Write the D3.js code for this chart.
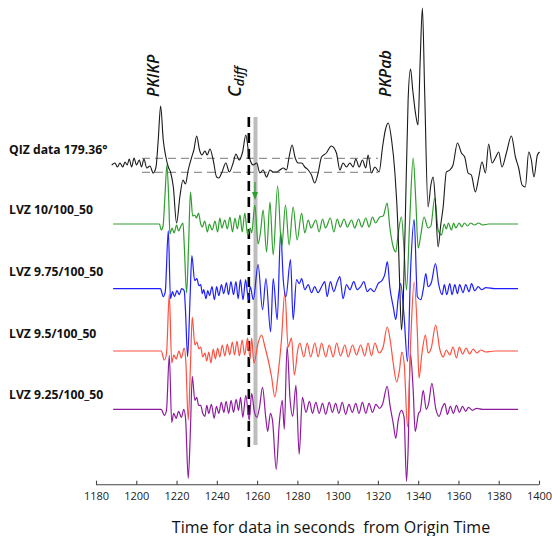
<!DOCTYPE html>
<html>
<head>
<meta charset="utf-8">
<script src="https://cdn.jsdelivr.net/npm/d3@7"></script>
<style>
html,body{margin:0;padding:0;background:#fff;}
svg{display:block;}
</style>
</head>
<body>
<svg id="chart" width="552" height="536"></svg>
<script>
// ---------- DATA (time in s from origin, relative amplitude) ----------
const traceNames = ["QIZ data 179.36°", "LVZ 10/100_50", "LVZ 9.75/100_50", "LVZ 9.5/100_50", "LVZ 9.25/100_50"];
const xTicks = [1180,1200,1220,1240,1260,1280,1300,1320,1340,1360,1380,1400];
const phaseNames = ["PKIKP", "C", "PKPab"];
const phaseTimes = [1210.6, 1251.6, 1326.0];
const cdiffPredicted = 1255.9;
const cdiffObserved = 1259.2;
const noiseLevels = [6.7, -7.3];

const qiz = [[1187.8,0],[1189.4,2],[1190.6,-2],[1191.9,2],[1193.3,-2],[1194.4,3],[1195.5,0],[1196.5,6],[1197.7,-2],[1198.9,7],[1200.1,0],[1201.5,5],[1202.6,-2],[1203.8,6],[1205.2,-3],[1206.8,-1],[1208.4,-8],[1209.8,-2],[1210.9,25],[1212.1,59],[1213.4,25],[1214.7,8],[1215.9,-2],[1217.0,-7],[1218.4,-22],[1220.0,-58],[1221.7,-31],[1223.2,-15],[1224.4,-19],[1225.8,-5],[1227.4,7],[1228.6,15],[1230.0,29],[1231.4,15],[1232.6,10],[1234.1,14],[1235.2,10],[1236.6,16],[1238.2,5],[1239.9,-12],[1241.0,-13],[1242.4,-8],[1244.5,2],[1246.2,-7],[1248.1,2],[1249.5,11],[1251.1,5],[1252.8,13],[1254.4,30],[1256.1,8],[1258.1,0],[1259.8,2],[1261.4,-8],[1263.0,-5],[1264.7,-12],[1266.4,-5],[1268.0,-7],[1269.7,-7],[1271.3,-5],[1273.0,-3],[1274.6,-5],[1275.9,8],[1277.4,20],[1278.8,8],[1280.4,2],[1282.1,2],[1283.7,-2],[1285.4,-5],[1287.0,-10],[1288.6,-18],[1290.3,-8],[1292.0,8],[1294.4,12],[1296.9,19],[1299.4,12],[1301.1,-5],[1302.7,2],[1304.4,-2],[1306.1,2],[1307.7,-2],[1309.0,6],[1310.7,-2],[1312.3,5],[1314.0,-3],[1315.1,10],[1316.8,-8],[1318.5,-2],[1320.6,-7],[1322.3,18],[1323.7,35],[1325.1,42],[1326.8,25],[1328.4,-7],[1330.0,-65],[1330.9,-125],[1331.7,-165],[1332.6,-135],[1333.6,-55],[1335.0,65],[1336.2,96],[1337.3,75],[1338.8,50],[1339.9,40],[1341.0,105],[1342.1,157],[1343.2,75],[1344.9,-42],[1346.3,-20],[1347.4,-12],[1348.5,-35],[1349.9,-82],[1351.2,-60],[1352.4,-42],[1354.0,-7],[1355.7,-5],[1357.3,0],[1359.5,22],[1361.5,12],[1363.1,8],[1364.8,-8],[1366.4,-10],[1368.4,-27],[1370.1,-12],[1371.7,3],[1373.4,-8],[1375.0,21],[1376.7,2],[1378.3,7],[1380.0,13],[1381.6,-2],[1383.8,12],[1386.3,29],[1388.3,8],[1389.9,-3],[1391.6,-20],[1393.2,-22],[1394.9,13],[1396.2,5],[1397.5,-12],[1399.2,10],[1400.3,13]];

const lvz10 = [[1188.5,0],[1211.5,0],[1212.4,-6],[1213.3,-2],[1214.3,30],[1215.2,59],[1216.2,20],[1216.7,-10],[1217.8,-4],[1218.8,-9],[1220.0,-1],[1221.0,-7],[1222.2,-2],[1223.2,1],[1223.8,-20],[1225.0,-69],[1226.0,-20],[1226.9,32],[1228.0,8],[1229.0,9],[1229.9,6],[1230.9,11],[1232.0,0],[1232.8,-3],[1234.0,3],[1235.3,-8],[1236.3,0],[1237.7,-6],[1239.1,3],[1240.4,-8],[1241.5,6],[1242.5,-4],[1244.0,4],[1245.2,-5],[1246.5,7],[1247.8,-8],[1249.0,6],[1250.2,-5],[1251.5,9],[1252.6,-8],[1253.9,11],[1255.3,-11],[1256.6,-4],[1257.3,-9],[1258.9,19],[1260.5,-20],[1261.7,-8],[1263.0,14],[1264.7,-28],[1266.4,22],[1268.0,-31],[1270.2,38],[1272.2,-24],[1274.1,19],[1275.9,-21],[1277.9,17],[1279.9,-16],[1282.1,11],[1283.7,-9],[1285.4,4],[1286.8,-4],[1289.2,4],[1290.8,-8],[1292.5,5],[1294.0,-4],[1296.4,6],[1298.1,-8],[1299.8,5],[1301.3,-3],[1303.2,5],[1304.8,-3],[1306.9,4],[1308.5,-4],[1310.4,5],[1312.0,-3],[1314.0,6],[1315.6,-3],[1317.3,7],[1318.8,1],[1320.9,7],[1322.6,8],[1324.6,21],[1325.9,-3],[1327.6,-23],[1328.9,-28],[1329.8,-14],[1331.7,7],[1332.9,-23],[1334.2,-66],[1335.8,4],[1337.5,66],[1338.8,24],[1340.0,-24],[1341.3,-11],[1342.9,7],[1344.9,-4],[1346.3,-2],[1348.2,26],[1349.9,-6],[1351.6,-11],[1352.9,0],[1354.0,-5],[1355.0,1],[1356.5,-6],[1357.6,1],[1358.7,-4],[1360.4,1],[1361.6,-3],[1363.0,1],[1364.5,-2],[1366.0,1],[1368.0,-1],[1370.0,1],[1372.0,-1],[1375.0,0],[1389.6,0]];

const lvz975 = [[1188.5,0],[1212.0,0],[1213.4,-8],[1214.4,-3],[1215.9,58],[1217.0,-10],[1218.0,-3],[1219.0,-8],[1220.2,-2],[1221.4,-6],[1222.5,0],[1223.8,-2],[1224.4,-20],[1225.5,-68],[1226.7,-10],[1227.6,33],[1229.0,8],[1230.1,10],[1231.1,3],[1232.0,4],[1232.8,-5],[1233.5,-1],[1234.6,-10],[1235.5,-2],[1236.4,-7],[1237.6,2],[1238.8,-11],[1239.9,2],[1241.0,-7],[1242.3,4],[1243.4,-5],[1244.8,6],[1245.8,-6],[1247.0,7],[1248.3,-6],[1249.5,7],[1250.6,-10],[1251.7,9],[1253.0,-11],[1254.3,9],[1255.7,-11],[1256.6,2],[1258.1,-11],[1260.5,24],[1262.7,-21],[1264.4,10],[1266.7,-43],[1268.0,10],[1270.0,-31],[1271.7,57],[1273.0,9],[1274.3,-8],[1276.6,29],[1277.9,-31],[1279.6,9],[1281.0,5],[1282.1,10],[1283.7,-1],[1285.4,4],[1287.0,-4],[1288.6,2],[1290.3,-4],[1292.0,2],[1293.6,7],[1294.8,-8],[1296.4,7],[1298.1,-3],[1299.8,7],[1301.1,12],[1302.7,-10],[1304.4,4],[1306.1,-1],[1308.0,7],[1309.7,-1],[1311.4,2],[1313.0,7],[1314.7,-3],[1316.3,0],[1318.0,-3],[1320.1,5],[1322.3,9],[1323.4,14],[1324.7,27],[1325.9,2],[1327.6,-18],[1328.9,-31],[1330.0,-11],[1331.3,5],[1333.0,-28],[1334.7,-73],[1336.3,22],[1338.0,69],[1339.6,-8],[1341.3,-11],[1342.5,-1],[1343.8,15],[1344.9,2],[1346.5,6],[1348.6,25],[1350.2,4],[1351.9,-6],[1353.0,4],[1354.2,-6],[1355.7,5],[1356.8,-6],[1358.2,4],[1359.5,-5],[1360.6,4],[1362.3,-4],[1363.6,4],[1365.3,-3],[1366.5,5],[1368.1,-2],[1369.8,2],[1371.5,-1],[1373.6,1],[1378.0,0],[1389.6,0]];

const lvz95 = [[1188.5,0],[1212.4,0],[1213.9,-9],[1215.0,-3],[1216.4,57],[1217.6,-12],[1218.6,-4],[1219.8,-8],[1221.2,0],[1222.4,-7],[1223.8,3],[1224.6,-10],[1225.8,-69],[1226.9,-15],[1227.8,34],[1229.1,6],[1230.1,9],[1231.1,2],[1232.0,4],[1233.0,-6],[1234.1,-2],[1235.0,-10],[1236.0,-1],[1237.1,-12],[1238.2,2],[1239.3,-8],[1240.4,3],[1241.5,-6],[1242.7,6],[1244.0,-5],[1245.2,7],[1246.4,-4],[1247.7,9],[1248.8,-4],[1250.0,10],[1251.2,-5],[1252.6,11],[1253.8,-4],[1255.3,13],[1256.5,-8],[1257.3,13],[1258.4,-12],[1260.5,8],[1262.2,16],[1263.9,4],[1265.5,-9],[1267.2,-26],[1268.8,-46],[1270.5,-22],[1272.1,11],[1273.8,59],[1275.4,4],[1277.1,13],[1278.5,-24],[1280.2,1],[1281.2,8],[1283.2,-6],[1284.9,8],[1286.6,-6],[1288.7,8],[1290.3,-6],[1292.0,8],[1294.1,-6],[1295.8,6],[1297.8,-6],[1299.5,8],[1301.4,-5],[1303.6,6],[1305.2,-6],[1307.4,6],[1309.4,-4],[1311.4,6],[1313.5,-5],[1315.1,8],[1316.8,-5],[1318.5,8],[1320.6,-2],[1322.6,4],[1324.6,24],[1326.3,8],[1327.6,-12],[1329.3,-31],[1330.7,-19],[1331.9,-1],[1333.1,-14],[1334.7,-76],[1336.3,11],[1338.0,69],[1339.6,18],[1340.4,-27],[1341.9,-2],[1343.6,16],[1344.9,-2],[1346.5,3],[1348.7,26],[1350.7,2],[1352.4,-6],[1354.0,1],[1355.7,-4],[1357.3,4],[1359.0,-7],[1360.4,4],[1362.1,-3],[1363.8,3],[1365.6,-3],[1367.3,2],[1369.1,-2],[1371.1,1],[1373.6,-1],[1378.0,0],[1389.6,0]];

const lvz925 = [[1188.5,0],[1212.4,0],[1213.9,-6],[1215.0,-1],[1216.4,54],[1217.6,-13],[1218.6,-4],[1219.8,-9],[1221.0,-2],[1222.4,-8],[1223.6,0],[1224.5,-10],[1225.8,-69],[1226.9,-20],[1227.8,33],[1229.1,9],[1230.0,12],[1231.0,4],[1232.0,4],[1233.0,-4],[1234.1,-7],[1235.0,4],[1236.0,-4],[1237.3,5],[1238.7,-9],[1239.8,3],[1241.0,-4],[1242.2,7],[1243.5,-3],[1244.6,8],[1245.9,-4],[1247.1,9],[1248.3,-3],[1249.6,10],[1250.8,-1],[1251.8,12],[1252.9,-8],[1254.4,14],[1256.1,-11],[1257.3,16],[1258.6,-2],[1259.9,-8],[1261.2,2],[1262.7,22],[1264.3,-8],[1265.3,-22],[1266.6,-4],[1267.7,-12],[1269.5,-60],[1271.0,-15],[1272.5,9],[1273.5,-20],[1274.9,63],[1276.4,9],[1277.7,-7],[1279.3,24],[1280.9,-45],[1282.5,12],[1284.3,-3],[1286.0,8],[1287.5,-4],[1289.2,7],[1290.8,-4],[1292.5,6],[1294.1,-5],[1295.8,7],[1297.4,-3],[1299.0,6],[1300.6,-4],[1302.3,7],[1304.0,-5],[1305.6,5],[1307.3,-3],[1309.0,6],[1310.6,-4],[1312.3,7],[1314.0,-4],[1315.6,6],[1317.3,-3],[1319.0,5],[1320.8,1],[1322.3,5],[1324.6,23],[1326.0,4],[1327.6,-14],[1328.9,-29],[1330.0,-12],[1331.7,-1],[1333.0,-8],[1334.2,-72],[1335.0,-40],[1336.1,56],[1337.5,20],[1338.5,-22],[1340.2,-4],[1341.0,-2],[1342.5,19],[1344.0,0],[1345.2,6],[1346.8,26],[1348.7,1],[1350.4,-7],[1352.0,2],[1353.2,6],[1354.5,-5],[1356.0,3],[1357.5,-4],[1359.0,4],[1360.5,-3],[1362.0,3],[1363.6,-2],[1365.0,2],[1367.0,-1],[1369.0,1],[1372.0,0],[1389.6,0]];

const seriesList = [qiz, lvz10, lvz975, lvz95, lvz925];
const seriesColors = ["#1a1a1a", "#2e9e2e", "#1f1fff", "#ff4f3f", "#8e1b9e"];

// ---------- LAYOUT ----------
const svg = d3.select("#chart");
const x = d3.scaleLinear().domain([1180, 1400]).range([96, 539]);
const baselines = [165, 224, 288.7, 351, 409.3];
const yFor = i => d3.scaleLinear().domain([-100, 100]).range([baselines[i] + 100, baselines[i] - 100]);

// noise band dashed lines on data trace
const y0 = yFor(0);
svg.selectAll("line.noise").data(noiseLevels).enter().append("line")
  .attr("x1", 142).attr("x2", 378)
  .attr("y1", d => y0(d)).attr("y2", d => y0(d))
  .attr("stroke", "#555").attr("stroke-width", 0.8).attr("stroke-dasharray", "8,5");

// grey band (observed Cdiff)
svg.append("line")
  .attr("x1", x(cdiffObserved)).attr("x2", x(cdiffObserved))
  .attr("y1", 117).attr("y2", 445)
  .attr("stroke", "#bdbdbd").attr("stroke-width", 4);

// dashed black (predicted Cdiff)
svg.append("line")
  .attr("x1", x(cdiffPredicted)).attr("x2", x(cdiffPredicted))
  .attr("y1", 117).attr("y2", 447)
  .attr("stroke", "#000").attr("stroke-width", 2.6).attr("stroke-dasharray", "10,6");

// traces (draw synthetics bottom-up, data on top)
const order = [4, 3, 2, 1, 0];
order.forEach(i => {
  const yy = yFor(i);
  const line = d3.line().x(d => x(d[0])).y(d => yy(d[1])).curve(d3.curveMonotoneX);
  svg.append("path").datum(seriesList[i])
    .attr("d", line).attr("fill", "none")
    .attr("stroke", seriesColors[i]).attr("stroke-width", i === 0 ? 1.1 : 1.2)
    .attr("stroke-linejoin", "round");
});

// green arrow
const ax = x(cdiffObserved) - 0.5;
svg.append("line").attr("x1", ax).attr("x2", ax).attr("y1", 182).attr("y2", 194)
  .attr("stroke", "#2e9e2e").attr("stroke-width", 1.3);
svg.append("path").attr("d", `M${ax-3},${192} L${ax+3},${192} L${ax},${200} Z`).attr("fill", "#2e9e2e");

// trace labels
const labelY = [149.3, 210, 271.7, 333.3, 395];
svg.selectAll("text.tl").data(traceNames).enter().append("text")
  .attr("x", 9).attr("y", (d, i) => labelY[i] + 4.3)
  .attr("font-family", "'Open Sans', sans-serif").attr("font-weight", "bold")
  .attr("font-size", 12.2).attr("fill", "#111").text(d => d);

// phase labels (rotated)
function phaseLabel(t, yBottom, txt, sub, size) {
  const g = svg.append("text")
    .attr("transform", `translate(${x(t)},${yBottom}) rotate(-90)`)
    .attr("font-family", "'Open Sans', sans-serif").attr("font-style", "italic")
    .attr("font-weight", 600).attr("font-size", size).attr("fill", "#111");
  g.append("tspan").text(txt);
  if (sub) g.append("tspan").attr("font-size", 13).attr("dy", 3).text(sub);
}
phaseLabel(phaseTimes[0] + 0.6, 97, phaseNames[0], null, 16);
phaseLabel(phaseTimes[1] + 0.3, 97, phaseNames[1], "diff", 18);
phaseLabel(phaseTimes[2] + 0.6, 97, phaseNames[2], null, 16);

// x axis
const axisG = svg.append("g").attr("transform", "translate(0,484.7)");
axisG.call(d3.axisTop(x).tickValues(xTicks).tickSize(4).tickFormat(d3.format("d")));
axisG.select(".domain").attr("stroke", "#444").attr("stroke-width", 1.1).attr("d", `M${x(1180)},0H${x(1400)}`);
axisG.selectAll(".tick line").attr("stroke", "#444").attr("stroke-width", 1.1);
axisG.selectAll(".tick text").attr("y", 15.5).attr("dy", 0)
  .attr("font-family", "'Open Sans', sans-serif").attr("font-size", 11).attr("fill", "#222");

svg.append("text").attr("x", 331).attr("y", 532.5).attr("text-anchor", "middle")
  .attr("font-family", "'Open Sans', sans-serif").attr("font-size", 16).attr("fill", "#111")
  .style("white-space", "pre")
  .text("Time for data in seconds  from Origin Time");
</script>
</body>
</html>
